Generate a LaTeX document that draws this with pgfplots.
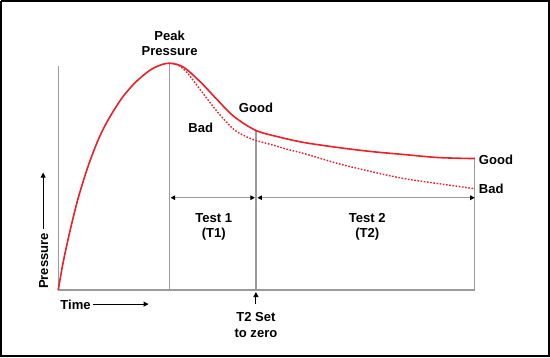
\documentclass[border=0pt]{standalone}
\usepackage{pgfplots}
\pgfplotsset{compat=1.18}
\usetikzlibrary{arrows.meta}
\usepackage{fontspec}
\setmainfont{Liberation Sans}
\definecolor{cred}{RGB}{236,32,40}
\definecolor{cgray}{RGB}{155,155,155}
\newcommand{\lblfont}{\fontsize{13bp}{15bp}\selectfont\bfseries}
\tikzset{lbl/.style={font=\lblfont, text=black, inner sep=0pt}}
\begin{document}
\begin{tikzpicture}
\begin{axis}[
  scale only axis, width=550bp, height=357bp,
  xmin=-58, xmax=492, ymin=-68, ymax=289,
  hide axis, clip=false,
]
% frame
\addplot[black, line width=2bp] coordinates {(-57,288) (489,288) (489,-66) (-57,-66) (-57,288)};
% gray structure lines
\addplot[cgray, line width=1.4bp] coordinates {(0,223) (0,0) (415,0) (415,133)};
\addplot[cgray, line width=1.4bp] coordinates {(111,0) (111,226)};
\addplot[cgray, line width=1.4bp] coordinates {(197,0) (197,159)};
% test duration arrows
\addplot[cgray, line width=1.2bp, {Triangle[length=4.5bp,width=4.5bp,color=black]}-{Triangle[length=4.5bp,width=4.5bp,color=black]}] coordinates {(112,92) (196,92)};
\addplot[cgray, line width=1.2bp, {Triangle[length=4.5bp,width=4.5bp,color=black]}-{Triangle[length=4.5bp,width=4.5bp,color=black]}] coordinates {(198.5,92) (415,92)};
% bad (dotted)
\addplot[cred, line width=1.4bp, smooth, dash pattern=on 1.6bp off 1.6bp] coordinates {
(114,226) (120,224) (129,216) (142,199) (159,177) (175,160) (187,153) (197,149) (212,145) (229,140) (245,136) (279,126) (312,118) (345,111) (379,106) (415,101)};
% good (solid) incl. rise
\addplot[cred, line width=1.6bp, smooth] coordinates {
(0,0) (5,28) (12,60) (20,92) (30,124) (40,150) (50,170) (64,192) (77,207) (90,218) (100,223.5) (111,226)
(125,222) (142,207) (159,189) (175,173) (197,159) (222,152) (245,147) (279,142) (312,138) (345,135) (379,132) (415,131)};
% black arrows
\addplot[black, line width=1bp, -{Triangle[length=5bp,width=5bp]}] coordinates {(197,-14) (197,-2)};
\addplot[black, line width=1bp, -{Triangle[length=5bp,width=5bp]}] coordinates {(35,-14) (90,-14)};
\addplot[black, line width=1bp, -{Triangle[length=5bp,width=5bp]}] coordinates {(-15,61) (-15,117)};
% labels
\node[lbl, anchor=base] at (axis cs:111,249) {Peak};
\node[lbl, anchor=base] at (axis cs:111,234) {Pressure};
\node[lbl, anchor=base] at (axis cs:197,177) {Good};
\node[lbl, anchor=base] at (axis cs:142,157) {Bad};
\node[lbl, anchor=base] at (axis cs:155,67) {Test 1};
\node[lbl, anchor=base] at (axis cs:155,52) {(T1)};
\node[lbl, anchor=base] at (axis cs:308,67) {Test 2};
\node[lbl, anchor=base] at (axis cs:308,52) {(T2)};
\node[lbl, anchor=base] at (axis cs:197,-31) {T2 Set};
\node[lbl, anchor=base] at (axis cs:197,-47) {to zero};
\node[lbl, anchor=base west] at (axis cs:2,-19) {Time};
\node[lbl, anchor=base, rotate=90] at (axis cs:-10,29) {Pressure};
\node[lbl, anchor=base west] at (axis cs:419,125) {Good};
\node[lbl, anchor=base west] at (axis cs:419,96) {Bad};
\end{axis}
\end{tikzpicture}
\end{document}
